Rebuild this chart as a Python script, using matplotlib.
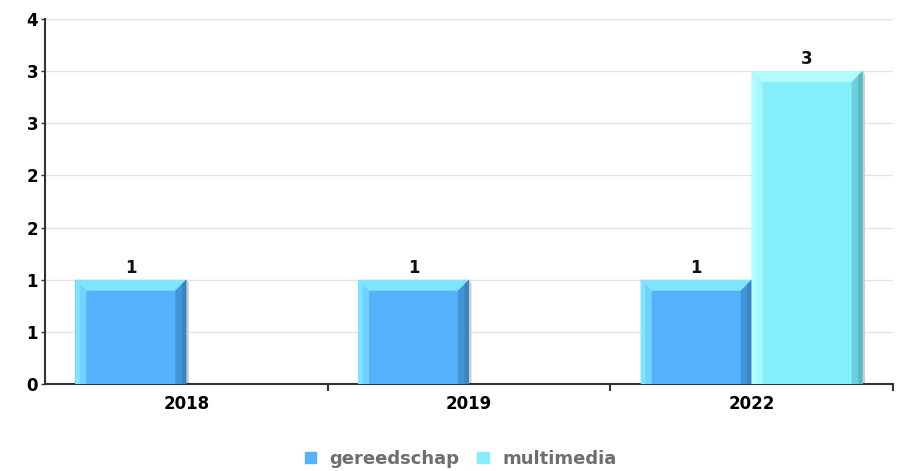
import math
import matplotlib
matplotlib.use("Agg")
import matplotlib.pyplot as plt
from matplotlib.patches import Polygon, Patch
from matplotlib.ticker import FixedLocator, FuncFormatter

# data
years = ["2018", "2019", "2022"]
gereedschap = [1, 1, 1]
multimedia = [0, 0, 3]
series_names = ["gereedschap", "multimedia"]

# colours: face, light bevel, top bevel, dark bevel
pal = {
    "gereedschap": ("#55b1fb", "#6fd2ff", "#7fe4fd", "#4294d8", "#3a84c0"),
    "multimedia": ("#84eefb", "#a6f7ff", "#b2fbff", "#6ccfdc", "#5cb8c4"),
}

fig = plt.figure(figsize=(9.03, 4.71), dpi=100)
W, H = 903, 471
ax = fig.add_axes([45 / W, (H - 384) / H, 848 / W, 365 / H])

bw = 111 / 283
x = list(range(len(years)))
ymax = 3.5

# bevel sizes in data units
dx = 11 / 283
dy = 11 / (365 / ymax)

def bevel_bar(xs, vals, name):
    face, light, top, dark, darker = pal[name]
    bars = ax.bar(xs, vals, width=bw, align="edge", color=face, zorder=3, linewidth=0)
    for b, v in zip(bars, vals):
        if v <= 0:
            continue
        x0 = b.get_x()
        x1 = x0 + b.get_width()
        h = b.get_height()
        # shadow
        ax.add_patch(Polygon([(x1, 0), (x1 + 0.009, 0), (x1 + 0.009, h - dy * 0.3), (x1, h)],
                             closed=True, color="#cfcfcf", lw=0, zorder=2))
        ax.add_patch(Polygon([(x0, 0), (x0 + dx, 0), (x0 + dx, h - dy), (x0, h)],
                             closed=True, color=light, lw=0, zorder=4))
        ax.add_patch(Polygon([(x0, 0), (x0 + dx * 0.4, 0), (x0 + dx * 0.4, h - dy * 0.4), (x0, h)],
                             closed=True, color=top, lw=0, zorder=4))
        ax.add_patch(Polygon([(x0, h), (x0 + dx, h - dy), (x1 - dx, h - dy), (x1, h)],
                             closed=True, color=top, lw=0, zorder=4))
        ax.add_patch(Polygon([(x1, 0), (x1 - dx, 0), (x1 - dx, h - dy), (x1, h)],
                             closed=True, color=dark, lw=0, zorder=4))
        ax.add_patch(Polygon([(x1, 0), (x1 - dx * 0.4, 0), (x1 - dx * 0.4, h - dy * 0.4), (x1, h)],
                             closed=True, color=darker, lw=0, zorder=4))
        ax.text(x0 + (x1 - x0) / 2, h + 0.03, str(v), ha="center", va="bottom",
                fontsize=12, fontweight="bold", color="#111111", zorder=5)

bevel_bar([i - bw for i in x], gereedschap, "gereedschap")
bevel_bar(x, multimedia, "multimedia")

ax.set_xlim(-0.5, len(years) - 0.5)
ax.set_ylim(0, ymax)

ax.set_xticks(x)
ax.set_xticklabels(years, fontsize=12, fontweight="bold")
ax.tick_params(axis="x", which="major", length=0, pad=8)
ax.xaxis.set_minor_locator(FixedLocator([i + 0.5 for i in range(0, len(years))]))
ax.tick_params(axis="x", which="minor", length=5, width=1.5, color="#333333")

yt = [i * 0.5 for i in range(8)]
ax.yaxis.set_major_locator(FixedLocator(yt))
ax.yaxis.set_major_formatter(FuncFormatter(lambda v, p: str(int(math.floor(v + 0.5)))))
ax.tick_params(axis="y", length=3, width=1, color="#333333", labelsize=12, pad=2)
for lab in ax.get_yticklabels():
    lab.set_fontweight("bold")

ax.grid(axis="y", color="#e3e3e3", linewidth=1, zorder=0)
ax.set_axisbelow(True)
for s in ["top", "right"]:
    ax.spines[s].set_visible(False)
ax.spines["left"].set_color("#333333")
ax.spines["bottom"].set_color("#333333")
ax.spines["left"].set_linewidth(1.5)
ax.spines["bottom"].set_linewidth(1.5)

handles = [Patch(color=pal[n][0]) for n in series_names]
leg = fig.legend(handles, series_names, loc="center", bbox_to_anchor=(0.510, 1 - 459 / H),
                 ncol=2, frameon=False, handlelength=0.62, handleheight=0.62,
                 handletextpad=0.75, columnspacing=1.0,
                 prop={"weight": "bold", "size": 13})
for t in leg.get_texts():
    t.set_color("#6e6e6e")

fig.savefig("out.png", dpi=100)
